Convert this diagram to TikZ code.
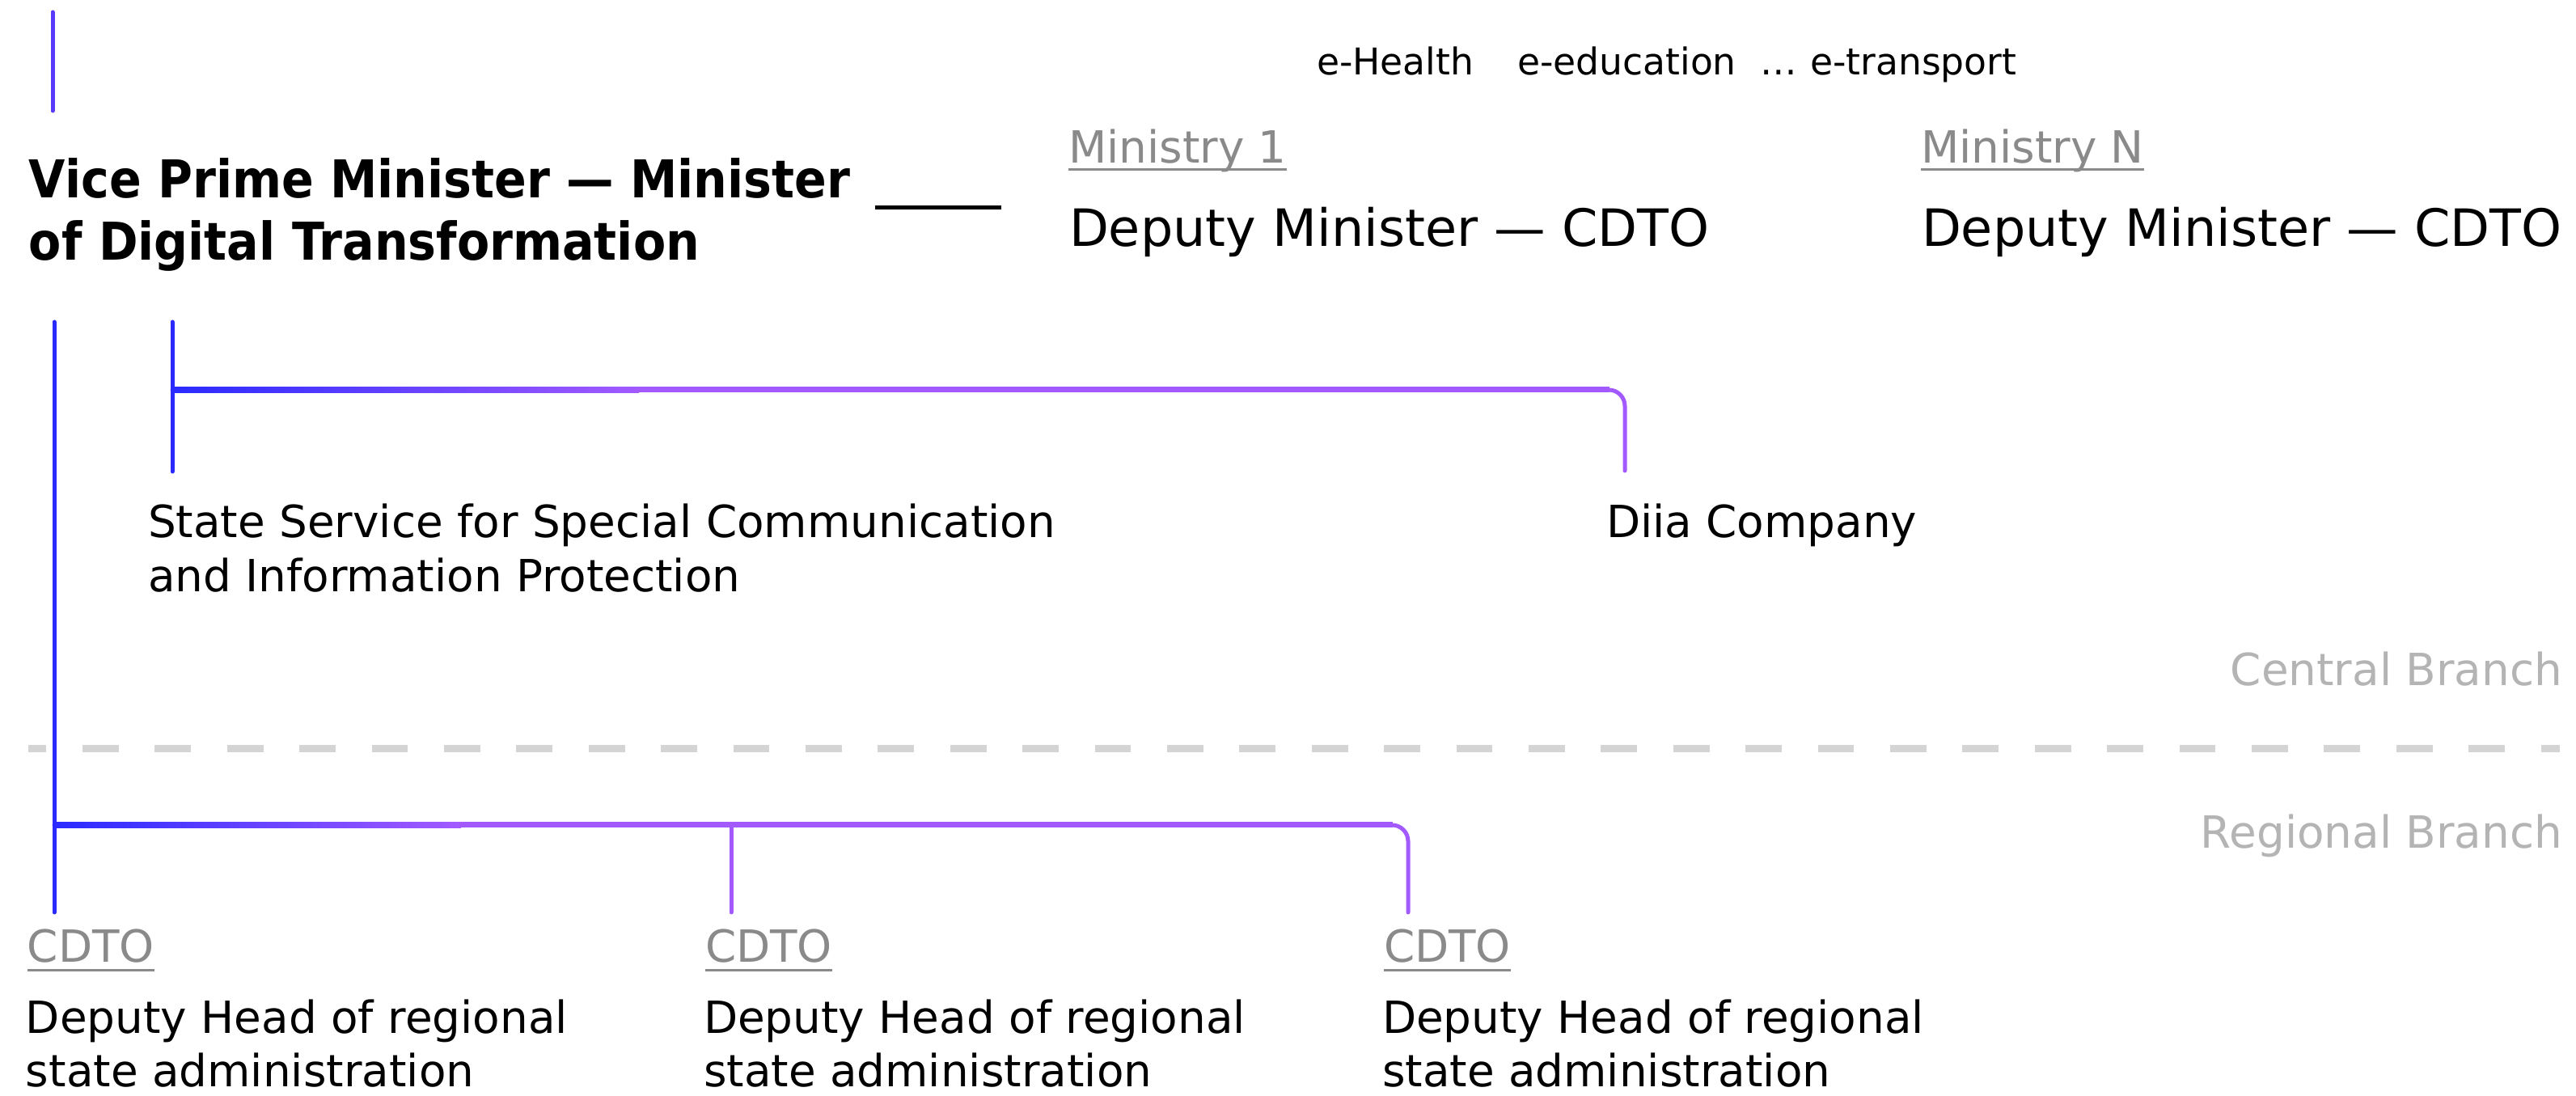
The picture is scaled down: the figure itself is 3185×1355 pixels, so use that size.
\documentclass[tikz,border=0pt]{standalone}
\usepackage{fontspec}
\setmainfont{DejaVu Sans}
\newfontfamily\titlefont[FakeStretch=0.91]{DejaVu Sans}
\definecolor{myblue}{RGB}{42,42,255}
\definecolor{mypurple}{RGB}{162,90,255}
\definecolor{topviolet}{RGB}{88,58,250}
\definecolor{labelgray}{RGB}{138,138,138}
\definecolor{branchgray}{RGB}{180,180,180}
\definecolor{dashgray}{RGB}{212,212,212}
\tikzset{
  txt/.style={inner sep=0pt, outer sep=0pt, anchor=base west, align=left},
  titletxt/.style={txt, font=\titlefont\bfseries\fontsize{16.1pt}{19.25pt}\selectfont},
  bigtxt/.style={txt, font=\fontsize{15.9pt}{19pt}\selectfont},
  midtxt/.style={txt, font=\fontsize{13.7pt}{16.75pt}\selectfont},
  headtxt/.style={txt, font=\fontsize{13.7pt}{16.5pt}\selectfont},
  smalltxt/.style={txt, font=\fontsize{11.4pt}{14pt}\selectfont},
  graytxt/.style={midtxt, text=labelgray},
  branchtxt/.style={midtxt, anchor=base east, text=branchgray},
  ulline/.style={draw=labelgray, line width=0.75pt},
  blueline/.style={draw=myblue, line width=1.25pt, line cap=round},
  purpleline/.style={draw=mypurple, line width=1.25pt, line cap=round},
  bracketline/.style={draw=mypurple, line width=1.25pt, line cap=round, rounded corners=5pt},
  barline/.style={draw=mypurple, line width=1.75pt},
  sepline/.style={draw=dashgray, line width=2.25pt, dash pattern=on 11.175pt off 11.175pt, dash phase=5.5875pt}
}
\begin{document}
\begin{tikzpicture}[x=0.25pt,y=-0.25pt]
\useasboundingbox (0,0) rectangle (3185,1355);
\fill[white] (0,0) rectangle (3185,1355);

% top short line
\coordinate (topA) at (65,15);
\coordinate (topB) at (65,137);
\draw[draw=topviolet, line width=1.25pt, line cap=round] (topA) -- (topB);

% title
\node[titletxt] (vpm) at (36,322) {Vice Prime Minister — Minister\\of Digital Transformation};
\coordinate (usA) at (1082,257);
\coordinate (usB) at (1238,257);
\draw[line width=1.25pt] (usA) -- (usB);

% e-services
\node[smalltxt] (eh) at (1628,93) {e-Health};
\node[smalltxt] (ee) at (1876,93) {e-education};
\node[smalltxt] (edots) at (2176,93) {…};
\node[smalltxt] (et) at (2238,93) {e-transport};

% ministries
\node[graytxt] (m1) at (1321,202) {Ministry 1};
\draw[ulline] ([yshift=-2pt]m1.base west) -- ([yshift=-2pt]m1.base east);
\node[bigtxt] (d1) at (1322,305) {Deputy Minister — CDTO};
\node[graytxt] (mN) at (2375,202) {Ministry N};
\draw[ulline] ([yshift=-2pt]mN.base west) -- ([yshift=-2pt]mN.base east);
\node[bigtxt] (dN) at (2376,305) {Deputy Minister — CDTO};

% central agencies
\node[midtxt] (sss) at (183,732) {State Service for Special Communication\\and Information Protection};
\node[midtxt] (diia) at (1986,665) {Diia Company};

\coordinate (v1top) at (67,398);
\coordinate (v1bot) at (67,1128);
\coordinate (v2top) at (213,398);
\coordinate (v2bot) at (213,583);
\coordinate (hubTop) at (213,482);
\coordinate (hubTopEnd) at (1990,482);
\coordinate (diiaTop) at (2009,582);

\draw[bracketline] (hubTop) -| (diiaTop);
\draw[barline] (hubTop) -- (hubTopEnd);
\shade[left color=myblue, right color=mypurple] (213,478.5) rectangle (790,485.5);
\draw[blueline] (v2top) -- (v2bot);

% branch labels and separator
\node[branchtxt] (cb) at (3168,848) {Central Branch};
\node[branchtxt] (rb) at (3168,1049) {Regional Branch};
\coordinate (sepA) at (35,926);
\coordinate (sepB) at (3165,926);
\draw[sepline] (sepA) -- (sepB);

% regional
\coordinate (hubBot) at (67,1020);
\coordinate (hubBotEnd) at (1722,1020);
\coordinate (r3top) at (1741,1128);
\coordinate (r2a) at (904,1020);
\coordinate (r2b) at (904,1128);
\draw[bracketline] (hubBot) -| (r3top);
\draw[barline] (hubBot) -- (hubBotEnd);
\shade[left color=myblue, right color=mypurple] (67,1016.5) rectangle (570,1023.5);
\draw[purpleline] (r2a) -- (r2b);
\draw[blueline] (v1top) -- (v1bot);

\node[graytxt] (c1) at (34,1190) {CDTO};
\draw[ulline] ([yshift=-2.5pt]c1.base west) -- ([yshift=-2.5pt]c1.base east);
\node[graytxt] (c2) at (872,1190) {CDTO};
\draw[ulline] ([yshift=-2.5pt]c2.base west) -- ([yshift=-2.5pt]c2.base east);
\node[graytxt] (c3) at (1711,1190) {CDTO};
\draw[ulline] ([yshift=-2.5pt]c3.base west) -- ([yshift=-2.5pt]c3.base east);

\node[headtxt] (h1) at (32,1344) {Deputy Head of regional\\state administration};
\node[headtxt] (h2) at (870,1344) {Deputy Head of regional\\state administration};
\node[headtxt] (h3) at (1709,1344) {Deputy Head of regional\\state administration};
\end{tikzpicture}
\end{document}
